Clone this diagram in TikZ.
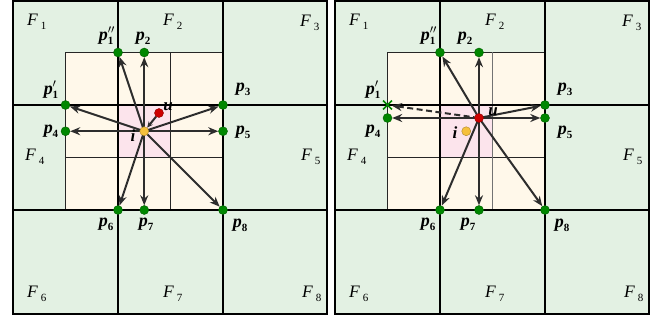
\documentclass[tikz,border=0pt]{standalone}
\usepackage{fontspec}
\setmainfont{Liberation Serif}
\usetikzlibrary{arrows.meta}
\definecolor{fgreen}{RGB}{227,241,227}
\definecolor{beige}{RGB}{255,248,234}
\definecolor{pinkc}{RGB}{252,228,236}
\definecolor{dotg}{RGB}{0,135,0}
\definecolor{dotr}{RGB}{205,0,0}
\definecolor{doty}{RGB}{246,192,60}
\definecolor{arrc}{RGB}{45,45,45}
\pgfdeclarelayer{gridlayer}
\pgfdeclarelayer{arrowlayer}
\pgfsetlayers{gridlayer,arrowlayer,main}
\newcommand\plab[2]{\textbf{\textit{p}}\rlap{\raisebox{0.1ex}{$^{#2}$}}\raisebox{-0.4ex}{\fontsize{11}{11}\selectfont\bfseries #1}}
\newcommand\flab[1]{\textit{F}\,\raisebox{-0.45ex}{\fontsize{11}{11}\selectfont #1}}
\tikzset{
  thickgrid/.style={line width=1.9pt, black},
  thingrid/.style={line width=1.1pt, black!85},
  arrowline/.style={line width=2pt, arrc, -{Stealth[length=10pt,width=8pt]}},
  dashedarrow/.style={arrowline, dashed, dash pattern=on 6pt off 3.5pt},
  gdot/.style={circle, fill=dotg, draw=dotg!70!black, line width=0.4pt, inner sep=0, minimum size=9pt},
  rdot/.style={circle, fill=dotr, draw=dotr!70!black, line width=0.4pt, inner sep=0, minimum size=9pt},
  ydot/.style={circle, fill=doty, draw=doty!70!black, line width=0.4pt, inner sep=0, minimum size=9pt},
  crossmark/.style={inner sep=0, minimum size=8.5pt},
  flabel/.style={font=\fontsize{17.5}{19}\selectfont, anchor=base west, inner sep=0},
  plabel/.style={font=\fontsize{18}{20}\selectfont, anchor=base, inner sep=0},
  ilabel/.style={font=\fontsize{17}{19}\selectfont\bfseries\itshape, anchor=base, inner sep=0},
}
\newcommand\panelgrid[2]{%
  \begin{pgfonlayer}{gridlayer}
  \fill[fgreen] (0,1) rectangle (314,314);
  \fill[beige] (52.5,52.5) rectangle (210,210);
  \fill[pinkc] (105,105) rectangle (157.5,157.5);
  \draw[thingrid] (52.5,52.5) rectangle (210,210);
  \draw[thingrid] (52.5,157.5) -- (210,157.5);
  \draw[thingrid,draw=#2] (157.5,52.5) -- (157.5,210);
  \draw[thickgrid] (105,1) -- (105,314) (210,1) -- (210,314) (0,105) -- (314,105) (0,210) -- (314,210);
  \draw[thickgrid] (0,1) rectangle (314,314);
  \end{pgfonlayer}
  \node[flabel] (#1F1) at (14,26) {\flab{1}};
  \node[flabel] (#1F2) at (150,26) {\flab{2}};
  \node[flabel] (#1F3) at (287,27) {\flab{3}};
  \node[flabel] (#1F4) at (12,161) {\flab{4}};
  \node[flabel] (#1F5) at (288,161) {\flab{5}};
  \node[flabel] (#1F6) at (14,298) {\flab{6}};
  \node[flabel] (#1F7) at (150,298) {\flab{7}};
  \node[flabel] (#1F8) at (289,298) {\flab{8}};
  \node[plabel] (#1L1b) at (93,41) {\plab{1}{\prime\prime}};
  \node[plabel] (#1L2) at (130,41) {\plab{2}{}};
  \node[plabel] (#1L1a) at (38,95) {\plab{1}{\prime}};
  \node[plabel] (#1L3) at (230,92) {\plab{3}{}};
  \node[plabel] (#1L4) at (38,134) {\plab{4}{}};
  \node[plabel] (#1L5) at (230,135) {\plab{5}{}};
  \node[plabel] (#1L6) at (93,227) {\plab{6}{}};
  \node[plabel] (#1L7) at (133,227) {\plab{7}{}};
  \node[plabel] (#1L8) at (227,228) {\plab{8}{}};
}
\begin{document}
\begin{tikzpicture}[x=1pt,y=-1pt]
\useasboundingbox (0,0) rectangle (662,320);
% ---------------- left panel ----------------
\begin{scope}[xshift=13pt]
  \panelgrid{L}{black!85}
  \node[gdot] (Lp1b) at (105,52.5) {};
  \node[gdot] (Lp2) at (131.25,52.5) {};
  \node[gdot] (Lp1a) at (52.5,105) {};
  \node[gdot] (Lp4) at (52.5,131.25) {};
  \node[gdot] (Lp3) at (210,105) {};
  \node[gdot] (Lp5) at (210,131.25) {};
  \node[gdot] (Lp6) at (105,210) {};
  \node[gdot] (Lp7) at (131.25,210) {};
  \node[gdot] (Lp8) at (210,210) {};
  \node[ydot] (Li) at (131.25,131.25) {};
  \node[rdot] (Lu) at (146,113) {};
  \node[ilabel] (Lulab) at (155,111) {u};
  \node[ilabel] (Lilab) at (120,142) {i};
  \begin{pgfonlayer}{arrowlayer}
    \foreach \t in {Lp1b,Lp2,Lp1a,Lp4,Lp3,Lp5,Lp6,Lp7,Lp8}
      \draw[arrowline] (Li.center) -- (\t);
    \draw[arrowline, -{Stealth[length=6pt,width=5.5pt]}] (Lu) -- (Li);
  \end{pgfonlayer}
\end{scope}
% ---------------- right panel ----------------
\begin{scope}[xshift=335pt]
  \panelgrid{R}{black!55}
  \node[gdot] (Rp1b) at (105,52.5) {};
  \node[gdot] (Rp2) at (144,52.5) {};
  \node[crossmark] (Rp1a) at (52.5,105) {};
  \draw[dotg, line width=1.6pt] (Rp1a.north west) -- (Rp1a.south east) (Rp1a.north east) -- (Rp1a.south west);
  \node[gdot] (Rp4) at (52.5,118) {};
  \node[gdot] (Rp3) at (210,105) {};
  \node[gdot] (Rp5) at (210,118) {};
  \node[gdot] (Rp6) at (105,210) {};
  \node[gdot] (Rp7) at (144,210) {};
  \node[gdot] (Rp8) at (210,210) {};
  \node[ydot] (Ri) at (131.25,131.25) {};
  \node[rdot] (Ru) at (144,118) {};
  \node[ilabel] (Rulab) at (158,116) {u};
  \node[ilabel] (Rilab) at (120,139) {i};
  \begin{pgfonlayer}{arrowlayer}
    \foreach \t in {Rp1b,Rp2,Rp4,Rp3,Rp5,Rp6,Rp7,Rp8}
      \draw[arrowline] (Ru.center) -- (\t);
    \draw[dashedarrow] (Ru.center) -- (Rp1a);
  \end{pgfonlayer}
\end{scope}
\end{tikzpicture}
\end{document}
